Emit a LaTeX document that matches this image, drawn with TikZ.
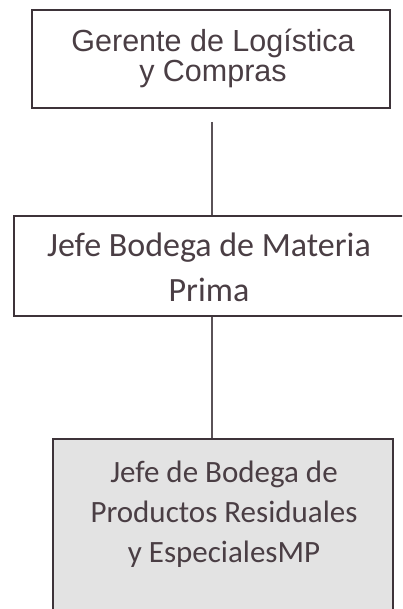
\documentclass[tikz,border=0pt]{standalone}
\usepackage{fontspec}
\setmainfont{Carlito}
\newfontfamily\arialf{Liberation Sans}
\definecolor{edge}{HTML}{3D3339}
\definecolor{txt}{HTML}{4A3E44}
\definecolor{boxfill}{HTML}{E3E3E3}
\begin{document}
\begin{tikzpicture}[x=1pt,y=1pt,
  box/.style={draw=edge, line width=1.6pt, inner sep=0pt},
  lbl/.style={text=txt, align=center, inner sep=0pt},
  link/.style={draw=edge!85, line width=1.5pt}]
\useasboundingbox (0,0) rectangle (402,-609);
\clip (0,0) rectangle (402,-609);
% top box
\node[box, minimum width=358pt, minimum height=98pt] (a) at (211,-59) {};
\node[lbl, font=\arialf\fontsize{30.5}{30}\selectfont] (at) at (213,-58) {Gerente de Logística\\y Compras};
% middle box
\node[box, minimum width=395pt, minimum height=100pt, anchor=north west] (b) at (13,-215) {};
\node[lbl, font=\fontsize{34}{45}\selectfont] (bt) at (209,-267) {Jefe Bodega de Materia\\Prima};
% bottom box
\node[box, fill=boxfill, minimum width=340pt, minimum height=185pt, anchor=north west] (c) at (52,-438) {};
\node[lbl, font=\fontsize{31}{40}\selectfont] (ct) at (224,-514) {Jefe de Bodega de\\Productos Residuales\\y EspecialesMP};
% connectors
\coordinate (a1) at (212,-122);
\draw[link] (a1) -- (a1 |- b.north);
\draw[link] (a1 |- b.south) -- (a1 |- c.north);
\end{tikzpicture}
\end{document}
